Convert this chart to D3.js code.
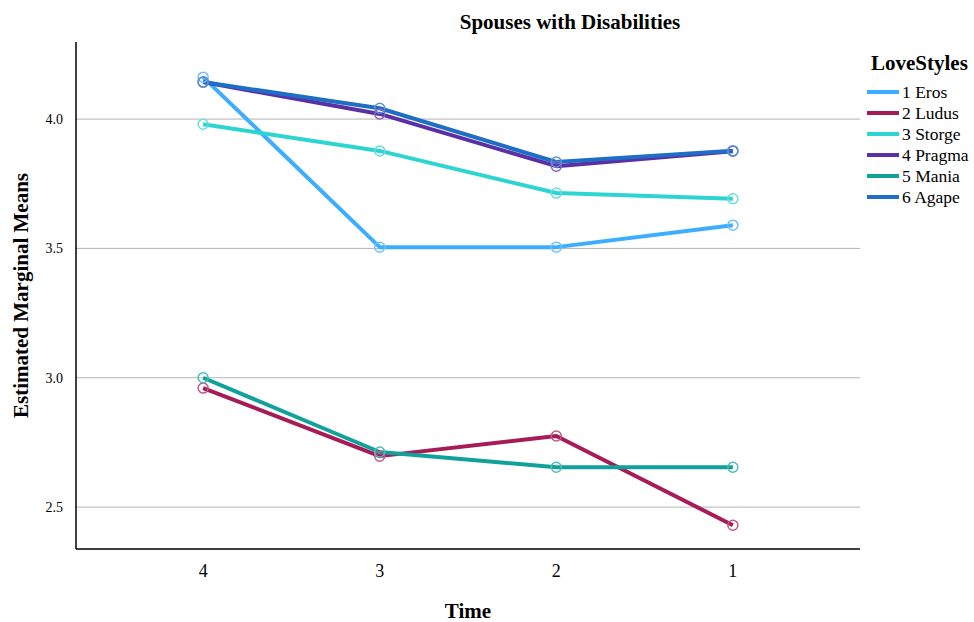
<!DOCTYPE html>
<html>
<head>
<meta charset="utf-8">
<script src="https://cdn.jsdelivr.net/npm/d3@7"></script>
<style>
  html, body { margin: 0; padding: 0; background: #fff; }
  svg { display: block; }
  text { font-family: "Liberation Serif", "Times New Roman", serif; fill: #000; }
</style>
</head>
<body>
<svg id="chart" width="974" height="622"></svg>
<script>
const times = ["4", "3", "2", "1"];
const seriesNames = ["1 Eros", "2 Ludus", "3 Storge", "4 Pragma", "5 Mania", "6 Agape"];
const seriesColors = ["#3daeff", "#a51c58", "#2cd5d2", "#5b2fa5", "#10a29a", "#1f6ec6"];
const markerColors = ["#6cc2ff", "#c4568a", "#66e0dc", "#8463bd", "#4dbdb6", "#5a93d6"];
const eros   = [4.162, 3.505, 3.505, 3.590];
const ludus  = [2.960, 2.697, 2.775, 2.430];
const storge = [3.980, 3.877, 3.714, 3.692];
const pragma = [4.143, 4.020, 3.818, 3.876];
const mania  = [3.000, 2.713, 2.654, 2.654];
const agape  = [4.143, 4.042, 3.834, 3.878];
const yTicks = [2.5, 3.0, 3.5, 4.0];
const seriesValues = [eros, ludus, storge, pragma, mania, agape];

const svg = d3.select("#chart");
const mLeft = 76, mRight = 860, mTop = 42, mBottom = 549;

const x = d3.scalePoint().domain(times).range([mLeft, mRight]).padding(0.72);
const y = d3.scaleLinear().domain([2.338, 4.298]).range([mBottom, mTop]);

// gridlines
svg.append("g").selectAll("line").data(yTicks).join("line")
  .attr("x1", mLeft).attr("x2", mRight)
  .attr("y1", d => y(d)).attr("y2", d => y(d))
  .attr("stroke", "#b4b4b4").attr("stroke-width", 1);

// y tick labels
svg.append("g").selectAll("text").data(yTicks).join("text")
  .attr("x", 63).attr("y", d => y(d)).attr("dy", "0.35em")
  .attr("text-anchor", "end").attr("font-size", 14)
  .text(d3.format(".1f"));

// x tick labels
svg.append("g").selectAll("text").data(times).join("text")
  .attr("x", d => x(d)).attr("y", 577)
  .attr("text-anchor", "middle").attr("font-size", 18)
  .text(d => d);

// axes lines
svg.append("line").attr("x1", mLeft).attr("x2", mLeft).attr("y1", mTop).attr("y2", mBottom)
  .attr("stroke", "#000").attr("stroke-width", 1.5);
svg.append("line").attr("x1", mLeft).attr("x2", mRight).attr("y1", mBottom).attr("y2", mBottom)
  .attr("stroke", "#000").attr("stroke-width", 1.5);

// lines
const line = d3.line().x((d, i) => x(times[i])).y(d => y(d));
seriesValues.forEach((vals, s) => {
  svg.append("path").datum(vals)
    .attr("d", line)
    .attr("fill", "none")
    .attr("stroke", seriesColors[s])
    .attr("stroke-width", 4)
    .attr("stroke-linejoin", "round");
});
seriesValues.forEach((vals, s) => {
  svg.append("g").selectAll("circle").data(vals).join("circle")
    .attr("cx", (d, i) => x(times[i])).attr("cy", d => y(d))
    .attr("r", 5)
    .attr("fill", "none")
    .attr("stroke", markerColors[s])
    .attr("stroke-width", 1.5);
});

// title
svg.append("text").attr("x", 570).attr("y", 29)
  .attr("text-anchor", "middle").attr("font-size", 21).attr("font-weight", "bold")
  .text("Spouses with Disabilities");

// axis titles
svg.append("text").attr("x", 468).attr("y", 618)
  .attr("text-anchor", "middle").attr("font-size", 21).attr("font-weight", "bold")
  .text("Time");
svg.append("text")
  .attr("transform", `translate(28, ${(mTop + mBottom) / 2}) rotate(-90)`)
  .attr("text-anchor", "middle").attr("font-size", 21).attr("font-weight", "bold")
  .text("Estimated Marginal Means");

// legend
svg.append("text").attr("x", 871).attr("y", 70)
  .attr("font-size", 21).attr("font-weight", "bold").text("LoveStyles");
const lg = svg.append("g").selectAll("g").data(seriesNames).join("g")
  .attr("transform", (d, i) => `translate(867, ${92 + i * 21})`);
lg.append("line").attr("x1", 0).attr("x2", 32).attr("y1", 0).attr("y2", 0)
  .attr("stroke", (d, i) => seriesColors[i]).attr("stroke-width", 4);
lg.append("text").attr("x", 35).attr("y", 0).attr("dy", "0.33em")
  .attr("font-size", 17.5).text(d => d);
</script>
</body>
</html>
